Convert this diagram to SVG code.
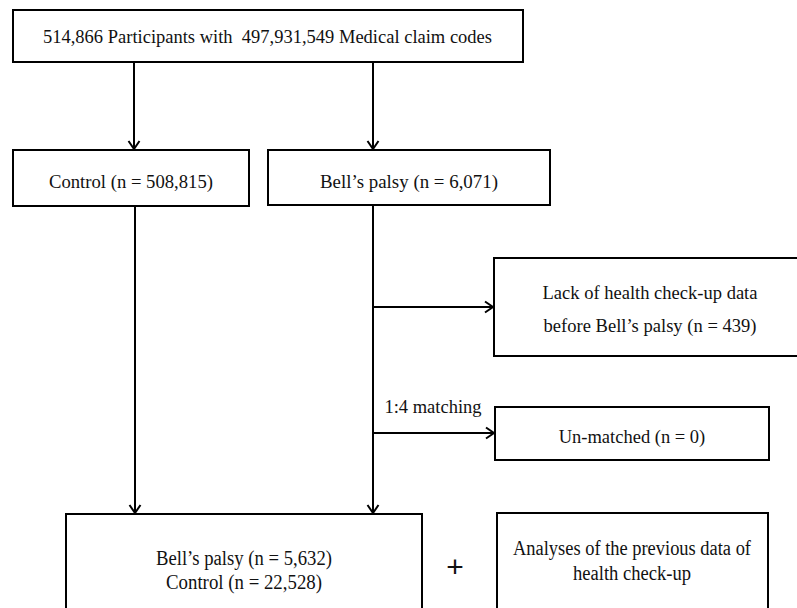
<svg xmlns="http://www.w3.org/2000/svg" width="797" height="608" viewBox="0 0 797 608">
<style>
.box{fill:#fff;stroke:#000;stroke-width:2}
.t{font-family:"Liberation Serif","Times New Roman",serif;font-size:18.5px;fill:#111;text-anchor:middle}
.tb{font-family:"Liberation Serif","Times New Roman",serif;font-size:20px;fill:#111;text-anchor:middle}
.ln{fill:none;stroke:#000;stroke-width:2}
</style>
<defs>
<marker id="ah" markerUnits="userSpaceOnUse" viewBox="-10 -7 12 14" refX="0" refY="0" markerWidth="12" markerHeight="14" orient="auto">
<path d="M-8,-5.5 L0,0 L-8,5.5" fill="none" stroke="#000" stroke-width="2"/>
</marker>
</defs>
<rect width="797" height="608" fill="#fff"/>
<g id="connectors">
<line class="ln" x1="134" y1="62" x2="134" y2="149" marker-end="url(#ah)"/>
<line class="ln" x1="373" y1="62" x2="373" y2="149" marker-end="url(#ah)"/>
<line class="ln" x1="135" y1="206" x2="135" y2="513" marker-end="url(#ah)"/>
<line class="ln" x1="373" y1="205" x2="373" y2="513" marker-end="url(#ah)"/>
<line class="ln" x1="373" y1="307" x2="493" y2="307" marker-end="url(#ah)"/>
<line class="ln" x1="373" y1="433" x2="494" y2="433" marker-end="url(#ah)"/>
<text class="t" x="433" y="413" font-size="18">1:4 matching</text>
</g>
<g id="n_all">
<rect class="box" x="13" y="10" width="510" height="52"/>
<text class="t" x="267.5" y="43" textLength="449" lengthAdjust="spacingAndGlyphs">514,866 Participants with &#160;497,931,549 Medical claim codes</text>
</g>
<g id="n_control">
<rect class="box" x="13" y="150" width="236" height="56"/>
<text class="t" x="131" y="188" textLength="164" lengthAdjust="spacingAndGlyphs">Control (n = 508,815)</text>
</g>
<g id="n_bell">
<rect class="box" x="268" y="150" width="282" height="55"/>
<text class="t" x="409" y="188" textLength="178" lengthAdjust="spacingAndGlyphs">Bell’s palsy (n = 6,071)</text>
</g>
<g id="n_lack">
<rect class="box" x="494" y="258" width="312" height="98"/>
<text class="t" x="650" y="299" textLength="215" lengthAdjust="spacingAndGlyphs">Lack of health check-up data</text>
<text class="t" x="650" y="332" textLength="213" lengthAdjust="spacingAndGlyphs">before Bell’s palsy (n = 439)</text>
</g>
<g id="n_unmatched">
<rect class="box" x="495" y="407" width="274" height="53"/>
<text class="t" x="632" y="443">Un-matched (n = 0)</text>
</g>
<g id="n_result">
<rect class="box" x="66" y="514" width="356" height="110"/>
<text class="tb" x="244" y="565" textLength="176" lengthAdjust="spacingAndGlyphs">Bell’s palsy (n = 5,632)</text>
<text class="tb" x="244" y="589" textLength="156" lengthAdjust="spacingAndGlyphs">Control (n = 22,528)</text>
</g>
<g id="n_plus">
<text x="455" y="577" font-family="Liberation Sans, Arial, sans-serif" font-size="30" text-anchor="middle" fill="#111">+</text>
</g>
<g id="n_analyses">
<rect class="box" x="497" y="513" width="271" height="110"/>
<text class="tb" x="632" y="555" textLength="238" lengthAdjust="spacingAndGlyphs">Analyses of the previous data of</text>
<text class="tb" x="632" y="580" textLength="118" lengthAdjust="spacingAndGlyphs">health check-up</text>
</g>
</svg>
